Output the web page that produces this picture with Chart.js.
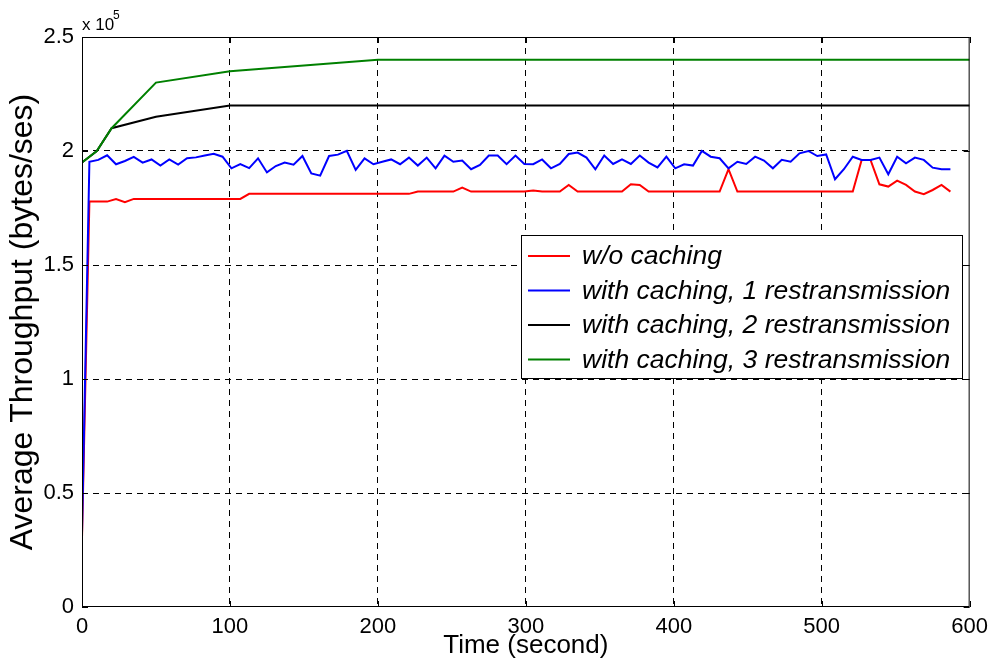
<!DOCTYPE html>
<html lang="en">
<head>
  <meta charset="UTF-8" />
  <title>Average Throughput vs Time</title>
  <script src="https://cdn.jsdelivr.net/npm/chart.js"></script>
  <style>
    html, body { margin: 0; padding: 0; background: #fff; }
    #wrap { width: 995px; height: 667px; position: relative; }
  </style>
</head>
<body>
  <div id="wrap"><canvas id="tputChart"></canvas></div>

  <script>
    // values in units of 10^5 bytes/s
    const seriesNames = [
      "w/o caching",
      "with caching, 1 restransmission",
      "with caching, 2 restransmission",
      "with caching, 3 restransmission"
    ];
    const seriesColors = ["#ff0000", "#0000ff", "#000000", "#008000"];

    const sampleTimes = [0, 5, 11, 17, 23, 29, 35, 41, 47, 53, 59, 65, 71, 77, 83, 89, 95,
      101, 107, 113, 119, 125, 131, 137, 143, 149, 155, 161, 167, 173, 179, 185, 191, 197,
      203, 209, 215, 221, 227, 233, 239, 245, 251, 257, 263, 269, 275, 281, 287, 293, 299,
      305, 311, 317, 323, 329, 335, 341, 347, 353, 359, 365, 371, 377, 383, 389, 395,
      401, 407, 413, 419, 425, 431, 437, 443, 449, 455, 461, 467, 473, 479, 485, 491, 497,
      503, 509, 515, 521, 527, 533, 539, 545, 551, 557, 563, 569, 575, 581, 587];

    const noCaching = [0.30, 1.778, 1.778, 1.778, 1.789, 1.775,
      1.79, 1.79, 1.79, 1.79, 1.79, 1.79, 1.79, 1.79, 1.79, 1.79, 1.79, 1.79, 1.79,
      1.812,
      1.812, 1.812, 1.812, 1.812, 1.812, 1.812, 1.812, 1.812, 1.812, 1.812, 1.812, 1.812, 1.812, 1.812, 1.812, 1.812, 1.812, 1.812,
      1.822, 1.822, 1.822, 1.822, 1.822,
      1.839,
      1.822, 1.822, 1.822, 1.822, 1.822, 1.822, 1.822,
      1.827, 1.822, 1.822, 1.822,
      1.851,
      1.822, 1.822, 1.822, 1.822, 1.822, 1.822,
      1.854, 1.851,
      1.822, 1.822, 1.822, 1.822, 1.822, 1.822, 1.822, 1.822, 1.822,
      1.92,
      1.822, 1.822, 1.822, 1.822, 1.822, 1.822, 1.822, 1.822, 1.822, 1.822, 1.822, 1.822, 1.822, 1.822,
      1.961, 1.961, 1.854, 1.844, 1.87, 1.851, 1.822, 1.811, 1.829, 1.851, 1.822];

    const caching1 = [0.32, 1.953, 1.961, 1.981, 1.942, 1.956, 1.974, 1.949, 1.963, 1.936, 1.963,
      1.940, 1.968, 1.972, 1.980, 1.988, 1.975,
      1.924, 1.943, 1.925, 1.968, 1.906, 1.934, 1.949, 1.940, 1.978, 1.902, 1.892, 1.978,
      1.984, 2.001, 1.917, 1.968, 1.942,
      1.953, 1.963, 1.942, 1.971, 1.936, 1.971, 1.924, 1.980, 1.953, 1.958, 1.920, 1.939,
      1.980, 1.980, 1.942, 1.980, 1.943,
      1.942, 1.963, 1.924, 1.943, 1.987, 1.993, 1.971, 1.920, 1.980, 1.943, 1.963, 1.943,
      1.980, 1.949, 1.928, 1.975,
      1.924, 1.942, 1.936, 2.000, 1.975, 1.968, 1.924, 1.953, 1.943, 1.975, 1.958, 1.924,
      1.961, 1.953, 1.990, 2.000, 1.978,
      1.985, 1.876, 1.920, 1.975, 1.961, 1.961, 1.971, 1.898, 1.975, 1.946, 1.971, 1.961,
      1.927, 1.920, 1.920];

    const stepTimes = [0, 10, 20, 50, 100, 200, 300, 400, 500, 600];
    const caching2 = [1.95, 2.0, 2.10, 2.15, 2.20, 2.20, 2.20, 2.20, 2.20, 2.20];
    const caching3 = [1.95, 2.0, 2.10, 2.30, 2.35, 2.40, 2.40, 2.40, 2.40, 2.40];

    const xTicks = [0, 100, 200, 300, 400, 500, 600];
    const yTicks = [0, 0.5, 1, 1.5, 2, 2.5];

    const FONT = "'Liberation Sans', Arial, sans-serif";

    function pairs(xs, ys) {
      return xs.map((x, i) => ({ x: x, y: ys[i] }));
    }

    function gridColor(ctx, ticks) {
      const v = ctx.tick.value;
      return (v === ticks[0] || v === ticks[ticks.length - 1]) ? "rgba(0,0,0,0)" : "#000";
    }

    // box, inward tick marks, exponent label and legend, drawn the MATLAB way
    const matlabFrame = {
      id: "matlabFrame",
      afterDraw(chart) {
        const c = chart.ctx;
        const a = chart.chartArea;
        const xs = chart.scales.x, ys = chart.scales.y;
        c.save();
        c.strokeStyle = "#000";
        c.lineWidth = 1;
        c.setLineDash([]);
        c.strokeRect(a.left + 0.5, a.top + 0.5, a.right - a.left - 1, a.bottom - a.top - 1);

        c.beginPath();
        xTicks.forEach(t => {
          const px = Math.round(xs.getPixelForValue(t)) + 0.5;
          c.moveTo(px, a.bottom); c.lineTo(px, a.bottom - 6);
          c.moveTo(px, a.top); c.lineTo(px, a.top + 6);
        });
        yTicks.forEach(t => {
          const py = Math.round(ys.getPixelForValue(t)) + 0.5;
          c.moveTo(a.left, py); c.lineTo(a.left + 6, py);
          c.moveTo(a.right, py); c.lineTo(a.right - 6, py);
        });
        c.stroke();

        // x 10^5
        c.fillStyle = "#000";
        c.textBaseline = "alphabetic";
        c.textAlign = "left";
        c.font = "17px " + FONT;
        c.fillText("x 10", a.left, a.top - 7);
        c.font = "12px " + FONT;
        c.fillText("5", a.left + 31, a.top - 18);

        // legend
        const bx = 521.5, by = 235.5, bw = 441, bh = 143;
        c.fillStyle = "#fff";
        c.fillRect(bx, by, bw, bh);
        c.strokeRect(bx, by, bw, bh);
        c.font = "italic 26.5px " + FONT;
        c.textBaseline = "middle";
        seriesNames.forEach((name, i) => {
          const y = 256 + i * 34.5;
          c.strokeStyle = seriesColors[i];
          c.lineWidth = 2;
          c.beginPath();
          c.moveTo(528, y); c.lineTo(570, y);
          c.stroke();
          c.fillStyle = "#000";
          c.fillText(name, 582, y + 1);
        });
        c.restore();
      }
    };

    const ctx = document.getElementById("tputChart").getContext("2d");

    const tputChart = new Chart(ctx, {
      type: "line",
      data: {
        datasets: [
          { label: seriesNames[0], data: pairs(sampleTimes, noCaching), borderColor: seriesColors[0], order: 3 },
          { label: seriesNames[1], data: pairs(sampleTimes, caching1), borderColor: seriesColors[1], order: 2 },
          { label: seriesNames[2], data: pairs(stepTimes, caching2), borderColor: seriesColors[2], order: 1 },
          { label: seriesNames[3], data: pairs(stepTimes, caching3), borderColor: seriesColors[3], order: 0 }
        ]
      },
      options: {
        responsive: true,
        maintainAspectRatio: false,
        animation: false,
        events: [],
        layout: { padding: { top: 37, right: 19, left: 0, bottom: 0 } },
        elements: {
          line: { borderWidth: 2, tension: 0, fill: false },
          point: { radius: 0 }
        },
        scales: {
          x: {
            type: "linear",
            min: 0,
            max: 600,
            afterFit: s => { s.height = 60; },
            afterBuildTicks: s => { s.ticks = xTicks.map(v => ({ value: v })); },
            ticks: { color: "#000", padding: 7, maxRotation: 0, font: { family: FONT, size: 22 } },
            grid: { color: c => gridColor(c, xTicks), lineWidth: 1, drawTicks: false },
            border: { display: false, dash: [6, 5] },
            title: {
              display: true,
              text: "Time (second)",
              color: "#000",
              font: { family: FONT, size: 26 },
              padding: { top: 0, bottom: 6 }
            }
          },
          y: {
            min: 0,
            max: 2.5,
            afterFit: s => { s.width = 82; },
            afterBuildTicks: s => { s.ticks = yTicks.map(v => ({ value: v })); },
            ticks: {
              color: "#000",
              padding: 8,
              font: { family: FONT, size: 22 },
              callback: v => String(v)
            },
            grid: { color: c => gridColor(c, yTicks), lineWidth: 1, drawTicks: false },
            border: { display: false, dash: [6, 5] },
            title: {
              display: true,
              text: "Average Throughput (bytes/ses)",
              color: "#000",
              font: { family: FONT, size: 32 },
              padding: { top: 4, bottom: 0 }
            }
          }
        },
        plugins: {
          legend: { display: false },
          tooltip: { enabled: false }
        }
      },
      plugins: [matlabFrame]
    });
  </script>
</body>
</html>
